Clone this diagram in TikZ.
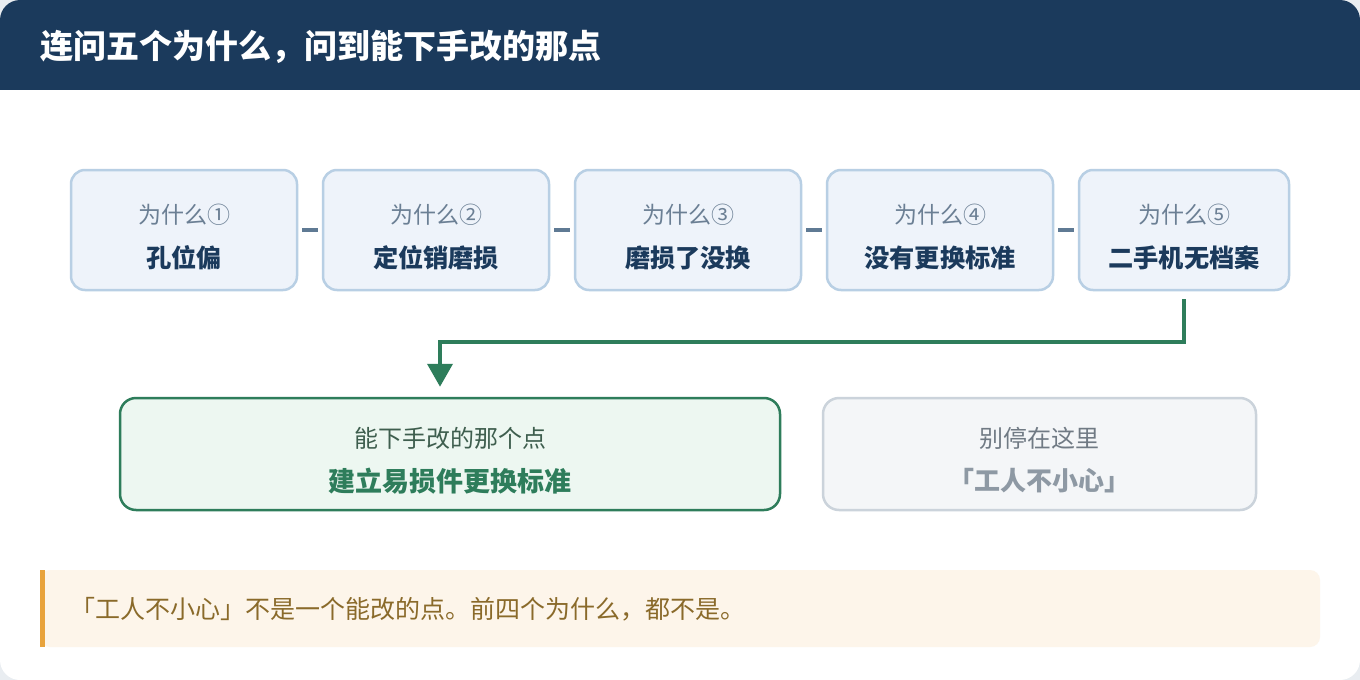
\documentclass[tikz,border=0pt]{standalone}
\usepackage{fontspec}
\setmainfont{Noto Sans CJK SC}
\newfontfamily\cjk{Noto Sans CJK SC}
\usetikzlibrary{arrows.meta}

\definecolor{navy}{HTML}{1B3A5C}
\definecolor{whyfill}{HTML}{EEF3FA}
\definecolor{whyline}{HTML}{B8CFE4}
\definecolor{whygray}{HTML}{6B7F94}
\definecolor{linkgray}{HTML}{5F7A94}
\definecolor{fixgreen}{HTML}{2E7D5B}
\definecolor{fixfill}{HTML}{EDF7F1}
\definecolor{fixtext}{HTML}{3E5E4E}
\definecolor{stopfill}{HTML}{F4F6F8}
\definecolor{stopline}{HTML}{CBD3DB}
\definecolor{stoptop}{HTML}{707A84}
\definecolor{stopmain}{HTML}{8E99A4}
\definecolor{notefill}{HTML}{FDF5EA}
\definecolor{notebar}{HTML}{E8A33C}
\definecolor{notetext}{HTML}{8A6A2A}
\definecolor{pagegray}{HTML}{E9EDF1}

\begin{document}
\begin{tikzpicture}[x=0.5pt,y=-0.5pt,
    whybox/.style={draw=whyline, fill=whyfill, line width=1.25pt, rounded corners=7pt,
        minimum width=113pt, minimum height=60pt},
    whytop/.style={text=whygray, font=\cjk\fontsize{11.5}{13}\selectfont},
    whymain/.style={text=navy, font=\cjk\bfseries\fontsize{12.6}{14}\selectfont},
    link/.style={draw=linkgray, line width=2pt, shorten <=2pt, shorten >=2pt},
    flow/.style={draw=fixgreen, line width=2pt, -{Triangle[width=12.5pt,length=11.5pt]}},
    endbox/.style={line width=1.25pt, rounded corners=8pt, minimum height=56pt}]
    % page and header
    \useasboundingbox (0,0) rectangle (1360,680);
    \fill[pagegray] (0,0) rectangle (1360,680);
    \fill[white, rounded corners=10pt] (0,0) rectangle (1360,680);
    \begin{scope}
        \clip[rounded corners=10pt] (0,0) rectangle (1360,680);
        \fill[navy] (0,0) rectangle (1360,90);
    \end{scope}
    \node[anchor=west, inner sep=0pt, text=white, font=\cjk\bfseries\fontsize{16.5}{18}\selectfont] (title) at (40,47) {连问五个为什么，问到能下手改的那点};

    % the five whys
    \node[whybox] (w1) at (184,230) {};
    \node[whybox] (w2) at (436,230) {};
    \node[whybox] (w3) at (688,230) {};
    \node[whybox] (w4) at (940,230) {};
    \node[whybox, minimum width=105pt] (w5) at (1184,230) {};
    \node[whytop] (w1top) at (184,215) {为什么①};
    \node[whymain] (w1main) at (184,258) {孔位偏};
    \node[whytop] (w2top) at (436,215) {为什么②};
    \node[whymain] (w2main) at (436,258) {定位销磨损};
    \node[whytop] (w3top) at (688,215) {为什么③};
    \node[whymain] (w3main) at (688,258) {磨损了没换};
    \node[whytop] (w4top) at (940,215) {为什么④};
    \node[whymain] (w4main) at (940,258) {没有更换标准};
    \node[whytop] (w5top) at (1184,215) {为什么⑤};
    \node[whymain] (w5main) at (1184,258) {二手机无档案};
    \draw[link] (w1) -- (w2);
    \draw[link] (w2) -- (w3);
    \draw[link] (w3) -- (w4);
    \draw[link] (w4) -- (w5);

    % where to stop
    \node[endbox, draw=fixgreen, fill=fixfill, minimum width=330pt] (fix) at (450,454) {};
    \node[text=fixtext, font=\cjk\fontsize{12}{14}\selectfont] (fixtop) at (450,438) {能下手改的那个点};
    \node[text=fixgreen, font=\cjk\bfseries\fontsize{13.5}{15}\selectfont] (fixmain) at (450,481) {建立易损件更换标准};
    \node[endbox, draw=stopline, fill=stopfill, minimum width=216.5pt] (stop) at (1039.5,454) {};
    \node[text=stoptop, font=\cjk\fontsize{12}{14}\selectfont] (stoptop) at (1039.5,438) {别停在这里};
    \node[text=stopmain, font=\cjk\bfseries\fontsize{13}{15}\selectfont] (stopmain) at (1039.5,481) {「工人不小心」};
    \coordinate (bend) at (440,342);
    \draw[flow, shorten <=4pt, shorten >=5pt] (w5.south) |- (bend) -- (bend |- fix.north);

    % note
    \fill[notefill, rounded corners=5pt] (40,570) rectangle (1320,647);
    \fill[notebar] (40,570) rectangle (45,647);
    \node[anchor=west, inner sep=0pt, text=notetext, font=\cjk\fontsize{12.5}{14}\selectfont] (note) at (70,609) {「工人不小心」不是一个能改的点。前四个为什么，都不是。};
\end{tikzpicture}
\end{document}
